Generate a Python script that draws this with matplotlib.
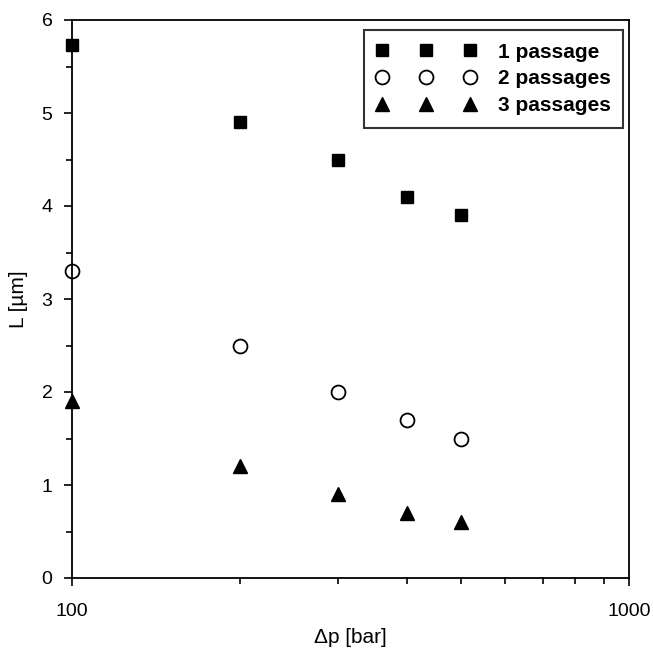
import matplotlib
matplotlib.use("Agg")
import matplotlib.pyplot as plt
from matplotlib.ticker import FixedLocator, NullFormatter, MultipleLocator

pressure = [100, 200, 300, 400, 500]
L_1 = [5.73, 4.9, 4.5, 4.1, 3.9]
L_2 = [3.3, 2.5, 2.0, 1.7, 1.5]
L_3 = [1.9, 1.2, 0.9, 0.7, 0.6]
labels = ["1 passage", "2 passages", "3 passages"]

plt.rcParams['font.family'] = ['Liberation Sans', 'DejaVu Sans']
fig = plt.figure(figsize=(6.53, 6.48), dpi=100)
ax = fig.add_axes([72/653, 1-578/648, (629-72)/653, (578-20)/648])

ax.plot(pressure, L_1, 's', color='black', ms=8.5, label=labels[0], clip_on=False)
ax.plot(pressure, L_2, 'o', mfc='white', mec='black', mew=1.3, ms=10, label=labels[1], clip_on=False)
ax.plot(pressure, L_3, '^', color='black', ms=10, label=labels[2], clip_on=False)

ax.set_xscale('log')
ax.set_xlim(100, 1000)
ax.set_ylim(0, 6)
ax.xaxis.set_major_locator(FixedLocator([100, 1000]))
ax.xaxis.set_major_formatter(matplotlib.ticker.FixedFormatter(["100", "1000"]))
ax.xaxis.set_minor_locator(FixedLocator([200, 300, 400, 500, 600, 700, 800, 900]))
ax.xaxis.set_minor_formatter(NullFormatter())
ax.yaxis.set_major_locator(MultipleLocator(1))
ax.yaxis.set_minor_locator(MultipleLocator(0.5))
ax.tick_params(which='major', direction='out', length=6, width=1.2, labelsize=14, pad=8)
ax.tick_params(axis='x', which='major', pad=12)
ax.tick_params(which='minor', direction='out', length=4, width=1.2)
for s in ax.spines.values():
    s.set_linewidth(1.3)

ax.set_xlabel('Δp [bar]', fontsize=15, labelpad=6)
ax.set_ylabel('L [µm]', fontsize=15, labelpad=10)

leg = ax.legend(loc='upper right', numpoints=3, fancybox=False, edgecolor='black',
                prop={'weight': 'bold', 'size': 15}, borderpad=0.6, handlelength=4.8,
                handletextpad=1.05, labelspacing=0.38, borderaxespad=0.0,
                bbox_to_anchor=(0.99, 0.982))
leg.get_frame().set_linewidth(1.5)

fig.savefig('out.png', dpi=100)
